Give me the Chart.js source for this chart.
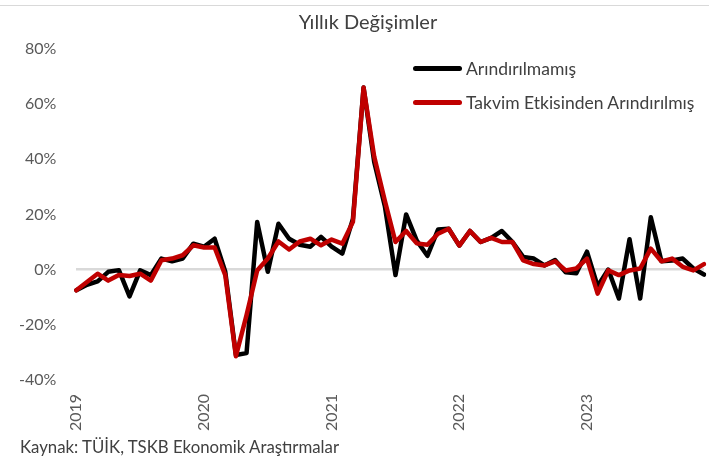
<!DOCTYPE html>
<html>
<head>
<meta charset="utf-8">
<script src="https://cdn.jsdelivr.net/npm/chart.js@4.4.1/dist/chart.umd.min.js"></script>
<style>
  body { margin: 0; background: #fff; }
  #wrap { position: relative; width: 709px; height: 461px; font-family: Lato, "Open Sans", sans-serif; color: #404040; }
  #topline { position: absolute; left: 0; right: 0; top: 5px; border-top: 1px solid #d9d9d9; }
  #title { position: absolute; left: 0; width: 736px; top: 9px; text-align: center; font-size: 20px; }
  #legend { position: absolute; left: 413px; top: 57px; font-size: 17.5px; }
  .item { display: flex; align-items: center; height: 22px; margin-bottom: 12px; }
  .swatch { width: 49px; height: 5px; border-radius: 3px; margin-right: 4px; }
  #source { position: absolute; left: 20px; top: 436px; font-size: 16.8px; }
</style>
</head>
<body>
<div id="wrap">
  <div id="topline"></div>
  <canvas id="myChart"></canvas>
  <div id="title">Yıllık Değişimler</div>
  <div id="legend"></div>
  <div id="source">Kaynak: TÜİK, TSKB Ekonomik Araştırmalar</div>
</div>
<script>
// categories: one per month, Jan 2019 - Dec 2023
var years = ['2019', '2020', '2021', '2022', '2023'];
var months = ['01', '02', '03', '04', '05', '06', '07', '08', '09', '10', '11', '12'];
var labels = [];
years.forEach(y => months.forEach(m => labels.push(y + '-' + m)));

// yearly change (%)
var arindirilmamis = [
  -7.5, -5.5, -4.3, -0.8, -0.2, -9.7, -0.3, -2, 4, 3, 4, 9.4,
  8.3, 11.2, -0.8, -31, -30.3, 17.3, -0.8, 16.6, 11.2, 9, 8.3, 11.9,
  8.3, 5.8, 18.4, 66, 39, 23, -2, 20, 10.5, 5, 14.5, 14.8,
  8.7, 14, 10, 11.5, 14, 10, 4.6, 4, 1.5, 3.5, -1, -1.3,
  6.5, -6, 0, -10.5, 11, -10.5, 19, 3, 3.3, 4, 0.4, -1.8
];
var takvimArindirilmis = [
  -7.5, -4.5, -1.5, -4, -2, -2.3, -1.5, -4, 3.4, 4, 5.2, 8.8,
  8, 8, -2, -31.4, -16.5, -0.3, 4, 10.2, 7.3, 10.2, 11.2, 8.8,
  10.9, 9.4, 17.3, 66, 41, 25, 10, 14, 9.5, 9, 13, 14.8,
  8.7, 14, 10, 11.5, 10, 10, 3.3, 2, 1.5, 3, -0.3, 0.4,
  4, -8.7, -0.3, -2, -0.3, 0.4, 7.6, 3, 4, 1, -0.3, 2
];
var yTicks = [-40, -20, 0, 20, 40, 60, 80];

var datasets = [{
  label: 'Arındırılmamış',
  data: arindirilmamis,
  borderColor: '#000000',
  borderWidth: 4.5,
  order: 2
}, {
  label: 'Takvim Etkisinden Arındırılmış',
  data: takvimArindirilmis,
  borderColor: '#c00000',
  borderWidth: 4.5,
  order: 1
}];

var chart = new Chart(document.getElementById('myChart'), {
  type: 'line',
  data: { labels: labels, datasets: datasets },
  options: {
    responsive: true,
    maintainAspectRatio: false,
    animation: false,
    elements: {
      point: { radius: 0 },
      line: { tension: 0, borderJoinStyle: 'round', borderCapStyle: 'round' }
    },
    layout: { padding: { left: -1, right: 5, top: 49, bottom: 16 } },
    plugins: {
      legend: { display: false },
      tooltip: { enabled: false },
      title: { display: false }
    },
    scales: {
      x: {
        grid: { display: false, drawTicks: false },
        border: { display: false },
        afterFit: function(axis) { axis.paddingLeft = 0; axis.paddingRight = 0; },
        ticks: {
          autoSkip: false,
          maxRotation: 90,
          minRotation: 90,
          padding: 14,
          color: '#595959',
          font: { family: 'Lato', size: 16 },
          callback: function(v, i) { return i % 12 === 0 ? labels[i].slice(0, 4) : ''; }
        }
      },
      y: {
        min: yTicks[0],
        max: yTicks[yTicks.length - 1],
        afterBuildTicks: function(axis) { axis.ticks = yTicks.map(v => ({ value: v })); },
        border: { display: false },
        grid: {
          drawTicks: false,
          lineWidth: 2.5,
          color: ctx => (ctx.tick && ctx.tick.value === 0) ? '#d9d9d9' : 'rgba(0,0,0,0)'
        },
        ticks: {
          padding: 20,
          color: '#595959',
          font: { family: 'Lato', size: 16 },
          callback: v => v + '%'
        }
      }
    }
  }
});

// legend in the plot area, built from the datasets
var leg = document.getElementById('legend');
datasets.forEach(ds => {
  var it = document.createElement('div');
  it.className = 'item';
  it.innerHTML = '<span class="swatch" style="background:' + ds.borderColor + '"></span>' + ds.label;
  leg.appendChild(it);
});
</script>
</body>
</html>
